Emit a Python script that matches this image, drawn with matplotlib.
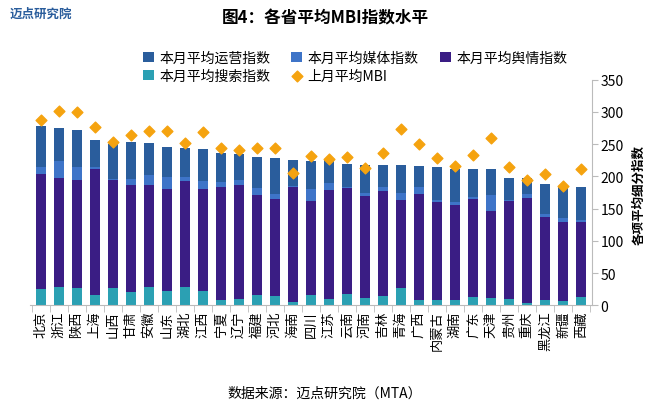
import numpy as np
import matplotlib
matplotlib.use('Agg')
import matplotlib.pyplot as plt

plt.rcParams['font.family'] = ['Noto Sans CJK SC', 'DejaVu Sans']

provinces = ['北京', '浙江', '陕西', '上海', '山西', '甘肃', '安徽', '山东', '湖北', '江西', '宁夏',
             '辽宁', '福建', '河北', '海南', '四川', '江苏', '云南', '河南', '吉林', '青海', '广西',
             '内蒙古', '湖南', '广东', '天津', '贵州', '重庆', '黑龙江', '新疆', '西藏']
search = [25, 28, 27, 16, 27, 21, 28, 23, 29, 22, 8, 10, 16, 14, 5, 16, 10, 17, 12, 15, 27, 9, 9, 9, 13, 11, 10, 4, 8, 7, 13]
opinion_top = [203, 197, 195, 212, 194, 186, 186, 180, 193, 180, 183, 186, 171, 165, 183, 162, 179, 182, 170, 177, 164, 172, 161, 156, 165, 147, 162, 167, 137, 130, 130]
media_top = [215, 224, 214, 215, 196, 196, 202, 199, 199, 193, 192, 194, 182, 173, 185, 180, 190, 183, 174, 183, 174, 183, 164, 160, 168, 171, 163, 172, 141, 135, 133]
total = [279, 275, 272, 256, 251, 254, 252, 246, 244, 242, 237, 235, 230, 229, 225, 224, 226, 220, 218, 217, 217, 216, 214, 212, 212, 211, 198, 198, 189, 185, 184]
mbi_last = [288, 301, 300, 276, 253, 264, 271, 271, 252, 269, 244, 241, 244, 244, 206, 232, 227, 230, 213, 237, 274, 250, 229, 216, 233, 260, 215, 194, 203, 185, 211]

search = np.array(search)
opinion = np.array(opinion_top) - search
media = np.array(media_top) - np.array(opinion_top)
operation = np.array(total) - np.array(media_top)

fig = plt.figure(figsize=(6.5, 4.14), dpi=100)
ax = fig.add_axes([0.046, 0.26, 0.865, 0.545])
x = np.arange(len(provinces))
w = 0.55
c_search, c_op, c_media, c_opi = '#2ba0b3', '#2a5d9c', '#3e74c8', '#3a1d84'
b1 = ax.bar(x, search, w, color=c_search)
b2 = ax.bar(x, opinion, w, bottom=search, color=c_opi)
b3 = ax.bar(x, media, w, bottom=search + opinion, color=c_media)
b4 = ax.bar(x, operation, w, bottom=search + opinion + media, color=c_op)
m = ax.scatter(x, mbi_last, marker='D', s=30, color='#f5a30f', zorder=3)

ax.set_xlim(-0.6, len(provinces) - 0.4)
ax.set_ylim(0, 350)
ax.set_yticks(range(0, 351, 50))
ax.yaxis.tick_right()
ax.set_xticks(x)
ax.set_xticklabels(provinces, rotation=90, fontsize=9.5)
ax.tick_params(axis='y', labelsize=10, length=4, color='#bbbbbb', pad=2)
ax.tick_params(axis='x', length=0)
for s in ['top', 'left']:
    ax.spines[s].set_visible(False)
ax.spines['bottom'].set_color('#bbbbbb')
ax.spines['right'].set_color('#bbbbbb')
ax.set_xticks(np.arange(-0.5, len(provinces)), minor=True)
ax.tick_params(axis='x', which='minor', length=5, color='#bbbbbb')
fig.text(0.983, 0.53, '各项平均细分指数', rotation=90, ha='center', va='center', fontsize=9, fontweight='bold')

fig.legend([b4, b1, b3, m, b2], ['本月平均运营指数', '本月平均搜索指数', '本月平均媒体指数', '上月平均MBI', '本月平均舆情指数'],
           loc='upper left', bbox_to_anchor=(0.2, 0.905), ncol=3, frameon=False, fontsize=10,
           handlelength=0.8, handleheight=0.8, columnspacing=1.5, handletextpad=0.4, labelspacing=0.3)

fig.text(0.5, 0.955, '图4：各省平均MBI指数水平', ha='center', va='center', fontsize=12, fontweight='bold')
fig.text(0.015, 0.965, '迈点研究院', ha='left', va='center', fontsize=9, fontweight='bold', color='#2a5d9c')
fig.text(0.5, 0.05, '数据来源：迈点研究院（MTA）', ha='center', va='center', fontsize=10)
fig.savefig('out.png', dpi=100)
